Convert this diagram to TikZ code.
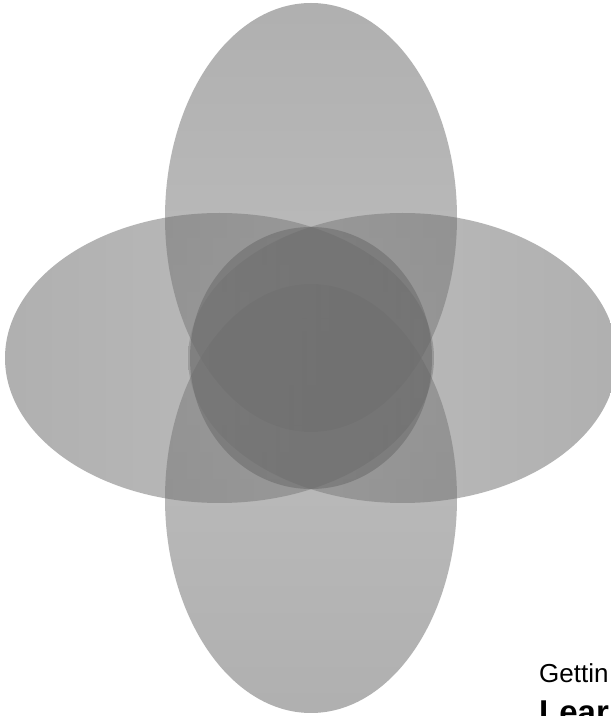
\documentclass[tikz,border=0pt]{standalone}
\usepackage{fontspec}
\setmainfont{Liberation Sans}
\begin{document}
\begin{tikzpicture}[x=1pt,y=1pt]
\tikzset{
  petal/.style={opacity=0.5},
  core/.style={fill={rgb,255:red,96;green,96;blue,96}, opacity=0.45},
  caption/.style={anchor=base west, inner sep=0pt, font=\fontsize{26}{30}\selectfont},
  headline/.style={anchor=base west, inner sep=0pt, font=\fontsize{33}{38}\selectfont\bfseries}
}
\definecolor{outer}{RGB}{98,98,98}
\definecolor{inner}{RGB}{130,130,130}
\fill[white] (0,0) rectangle (611,716);
\useasboundingbox (0,0) rectangle (611,716);
% top ellipse
\shade[petal, top color=outer, bottom color=inner] (311,498.5) ellipse [x radius=146pt, y radius=214.5pt];
% bottom ellipse
\shade[petal, top color=inner, bottom color=outer] (311,217.5) ellipse [x radius=146pt, y radius=214.5pt];
% left ellipse
\shade[petal, left color=outer, right color=inner] (219.5,358) ellipse [x radius=214.5pt, y radius=145pt];
% right ellipse
\shade[petal, left color=inner, right color=outer] (402.5,358) ellipse [x radius=214.5pt, y radius=145pt];
% central circle
\fill[core] (311,358) ellipse [x radius=121pt, y radius=131pt];
% texts
\node[caption] (cap) at (539,33) {Gettin};
\node[headline] (head) at (539,-8) {Lear};
\end{tikzpicture}
\end{document}
